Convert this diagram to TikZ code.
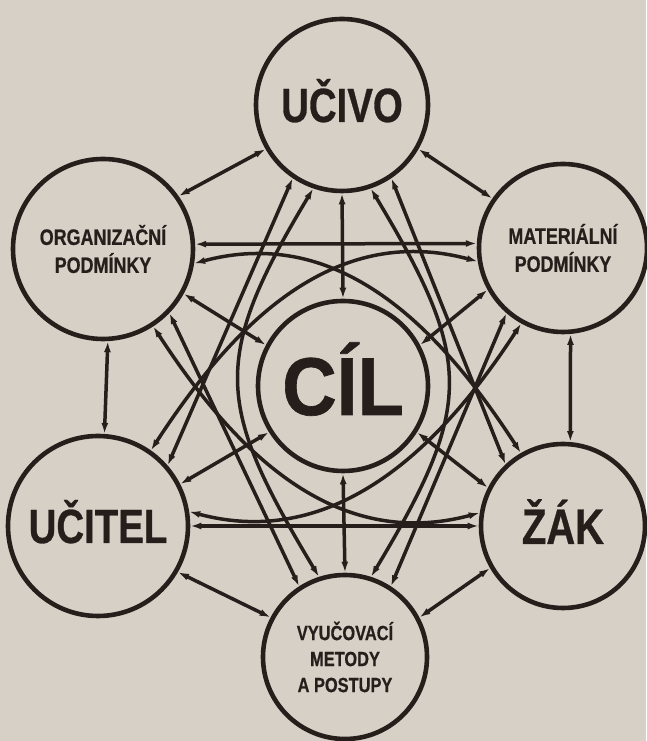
\documentclass[tikz,border=0pt]{standalone}
\usepackage{fontspec}
\setmainfont{Liberation Sans}[FakeStretch=0.8, FakeBold=0.6]
\newfontfamily\goalfont{Liberation Sans}[FakeStretch=0.92, FakeBold=0.8]
\usetikzlibrary{positioning, arrows.meta, backgrounds}

\definecolor{paper}{RGB}{214,208,199}
\definecolor{ink}{RGB}{38,30,27}

\begin{document}
\begin{tikzpicture}[x=1pt, y=1pt,
    part/.style={circle, draw=ink, line width=4.6pt, fill=paper, inner sep=0pt, align=center, text=ink},
    link/.style={draw=ink, line width=3.5pt, {Latex[length=11pt,width=7pt]}-{Latex[length=11pt,width=7pt]}}]
    \useasboundingbox (0,0) rectangle (646,741);
    \fill[paper] (0,0) rectangle (646,741);

    % the seven parts of the system
    \node[part, minimum size=172pt, text height=34pt, text depth=0pt, font=\fontsize{48}{48}\selectfont\bfseries] (U) at (342,636) {UČIVO};
    \node[part, minimum size=180pt, font=\fontsize{22.4}{28}\selectfont\bfseries] (O) at (103,492) {ORGANIZAČNÍ\\PODMÍNKY};
    \node[part, minimum size=168pt, font=\fontsize{22.4}{28}\selectfont\bfseries] (M) at (563,493) {MATERIÁLNÍ\\PODMÍNKY};
    \node[part, minimum size=170pt, text height=58pt, text depth=0pt, font=\fontsize{82}{82}\goalfont\bfseries] (C) at (343,355) {CÍL};
    \node[part, minimum size=180pt, text height=34pt, text depth=0pt, font=\fontsize{48}{48}\selectfont\bfseries] (T) at (98,215) {UČITEL};
    \node[part, minimum size=164pt, text height=36pt, text depth=0pt, font=\fontsize{50}{50}\selectfont\bfseries] (Z) at (563,215) {ŽÁK};
    \node[part, minimum size=164pt, font=\fontsize{20.5}{26}\selectfont\bfseries] (V) at (345,84) {VYUČOVACÍ\\METODY\\A POSTUPY};

    % hexagon
    \path (U.210) edge[link] (O.35);
    \path (U.330) edge[link] (M.145);
    \path (O.273) edge[link] (T.86);
    \path (M.275) edge[link] (Z.85);
    \path (T.330) edge[link] (V.152);
    \path (Z.210) edge[link] (V.28);

    % spokes to the centre
    \path (U.270) edge[link] (C.90);
    \path (V.90) edge[link] (C.270);
    \path (O.331) edge[link] (C.152);
    \path (M.209) edge[link] (C.28);
    \path (T.27) edge[link] (C.212);
    \path (Z.153) edge[link] (C.328);

    % straight cross links
    \path (O.3) edge[link] (M.177);
    \path (T.0) edge[link] (Z.180);
    \path (U.236) edge[link] (T.41);
    \path (U.304) edge[link] (Z.133);
    \path (O.316) edge[link] (V.123);
    \path (M.229) edge[link] (V.57);

    % curved links around the centre
    \path (U.251) edge[link, out=239, in=121, distance=200pt] (V.108);
    \path (U.289) edge[link, out=301, in=59, distance=200pt] (V.72);
    \path (M.189) edge[link, out=165, in=57, distance=150pt] (T.55);
    \path (O.351) edge[link, out=15, in=123, distance=150pt] (Z.120);
    \path (T.9) edge[link, out=345, in=237, distance=150pt] (M.241);
    \path (Z.171) edge[link, out=195, in=303, distance=150pt] (O.303);
\end{tikzpicture}
\end{document}
